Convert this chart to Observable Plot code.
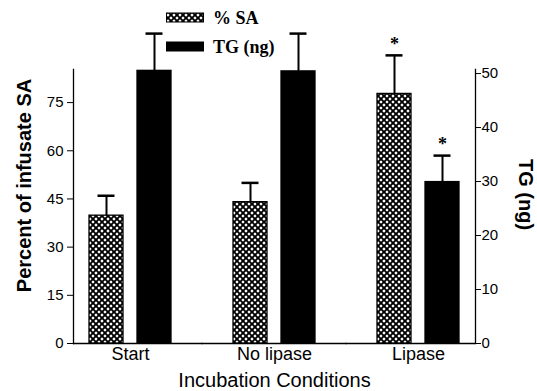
<!DOCTYPE html>
<html><head><meta charset="utf-8">
<script src="https://cdn.jsdelivr.net/npm/d3@7"></script>
<script src="https://cdn.jsdelivr.net/npm/@observablehq/plot@0.6"></script>
<style>
html,body{margin:0;padding:0;background:#fff;color:#000;}
#wrap{position:relative;width:537px;height:391px;}
#legend{position:absolute;left:0;top:0;pointer-events:none;}
</style></head><body>
<svg width="0" height="0" style="position:absolute">
<defs><pattern id="hatch" patternUnits="userSpaceOnUse" width="6" height="6">
<rect width="6" height="6" fill="white"/>
<path d="M-1,-1L7,7M-1,5L1,7M5,-1L7,1M-1,7L7,-1M-1,1L1,-1M5,7L7,5" stroke="black" stroke-width="1.9" fill="none"/>
</pattern></defs></svg>
<div id="wrap"></div>
<script>
const conditions = ["Start", "No lipase", "Lipase"];
const seriesKeys = ["SA", "TG"];
const seriesNames = ["% SA", "TG (ng)"];
const saPercent = [39.8, 44.0, 77.7];
const saError = [6.2, 6.0, 12.0];
const tgNg = [50.5, 50.4, 29.9];
const tgError = [6.9, 7.0, 4.9];
const significant = [false, false, true];
const leftTicks = [0, 15, 30, 45, 60, 75];
const rightTicks = [0, 10, 20, 30, 40, 50];
const leftMax = 85.3;
const rightMax = 50.75;
const K = leftMax / rightMax;

const rows = [];
conditions.forEach((c, i) => {
  rows.push({cond: c, series: "SA", y: saPercent[i], top: saPercent[i] + saError[i], sig: significant[i]});
  rows.push({cond: c, series: "TG", y: tgNg[i] * K, top: (tgNg[i] + tgError[i]) * K, sig: significant[i]});
});

const fxPadInner = 0.208;
const halfGap = -15.5;

const chart = Plot.plot({
  width: 537, height: 391,
  marginLeft: 73, marginRight: 61, marginTop: 69, marginBottom: 48,
  style: {fontFamily: "'Liberation Sans', Arial, sans-serif", color: "black", background: "white", overflow: "visible"},
  fx: {domain: conditions, paddingInner: fxPadInner, paddingOuter: 0},
  x: {domain: seriesKeys, paddingInner: 0.2917, paddingOuter: 0.333, axis: null},
  y: {domain: [0, leftMax]},
  marks: [
    Plot.ruleY([0], {fx: [conditions[0]], insetRight: halfGap, strokeWidth: 1.3}),
    Plot.ruleY([0], {fx: [conditions[1]], insetLeft: halfGap, insetRight: halfGap, strokeWidth: 1.3}),
    Plot.ruleY([0], {fx: [conditions[2]], insetLeft: halfGap, strokeWidth: 1.3}),
    Plot.barY(rows.filter(d => d.series === "SA"), {fx: "cond", x: "series", y: "y", fill: "url(#hatch)", stroke: "black", strokeWidth: 1.3}),
    Plot.barY(rows.filter(d => d.series === "TG"), {fx: "cond", x: "series", y: "y", fill: "black", stroke: "black", strokeWidth: 1.3}),
    Plot.ruleX(rows, {fx: "cond", x: "series", y1: "y", y2: "top", strokeWidth: 2}),
    Plot.tickY(rows, {fx: "cond", x: "series", y: "top", strokeWidth: 2.5, inset: 8.5}),
    Plot.text(rows.filter(d => d.sig), {fx: "cond", x: "series", y: "top", text: () => "*", dy: -11, fontSize: 18, fontWeight: "bold", fontFamily: "'Liberation Serif', serif"}),
    Plot.axisY(leftTicks, {anchor: "left", tickSize: 6, tickPadding: 4, fontSize: 15, label: null}),
    Plot.axisY(rightTicks, {anchor: "right", y: d => d * K, text: d => String(d), tickSize: 5, tickPadding: 1, fontSize: 15, label: null}),
    Plot.frame({anchor: "left", facetAnchor: "left", strokeWidth: 1.3}),
    Plot.frame({anchor: "right", facetAnchor: "right", strokeWidth: 1.3}),
    Plot.axisFx({anchor: "bottom", tickSize: 0, tickPadding: 4, fontSize: 18, label: null}),
    Plot.axisFx({anchor: "bottom", ticks: [], tickSize: 0, label: "Incubation Conditions", labelAnchor: "center", labelOffset: 43, fontSize: 20}),
    Plot.text(["Percent of infusate SA"], {facetAnchor: "left", frameAnchor: "left", text: d => d, dx: -49, dy: -21, rotate: -90, textAnchor: "middle", lineAnchor: "middle", fontSize: 20, fontWeight: "bold"}),
    Plot.text(["TG (ng)"], {facetAnchor: "right", frameAnchor: "right", text: d => d, dx: 50, dy: -12, rotate: 90, textAnchor: "middle", lineAnchor: "middle", fontSize: 20, fontWeight: "bold"})
  ]
});
const wrap = document.getElementById("wrap");
wrap.appendChild(chart);

// legend overlay
const ns = "http://www.w3.org/2000/svg";
const lg = document.createElementNS(ns, "svg");
lg.setAttribute("id", "legend");
lg.setAttribute("width", 537);
lg.setAttribute("height", 60);
const fills = ["url(#hatch)", "black"];
const rowsY = [13, 42];
seriesNames.forEach((name, i) => {
  const r = document.createElementNS(ns, "rect");
  r.setAttribute("x", 166.5); r.setAttribute("y", rowsY[i]);
  r.setAttribute("width", 37); r.setAttribute("height", 9);
  r.setAttribute("fill", fills[i]); r.setAttribute("stroke", "black"); r.setAttribute("stroke-width", 1);
  lg.appendChild(r);
  const t = document.createElementNS(ns, "text");
  t.setAttribute("x", 213); t.setAttribute("y", rowsY[i] + 11);
  t.setAttribute("font-family", "'Liberation Serif', 'Times New Roman', serif");
  t.setAttribute("font-weight", "bold"); t.setAttribute("font-size", 18);
  t.textContent = name;
  lg.appendChild(t);
});
wrap.appendChild(lg);
</script>
</body></html>
